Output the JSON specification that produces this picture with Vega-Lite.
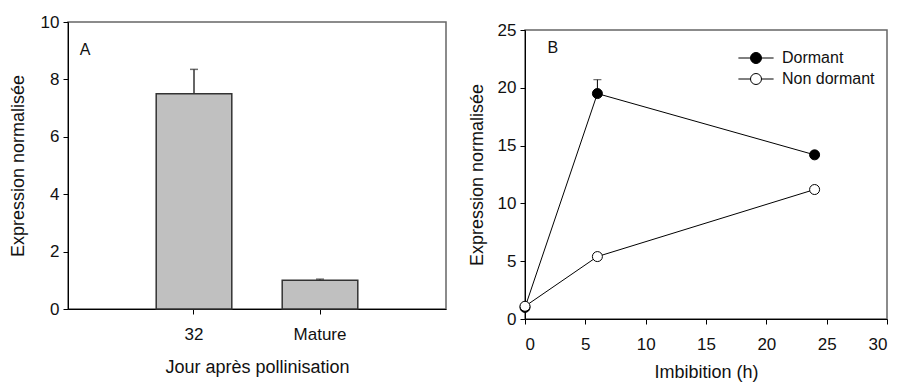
{
  "$schema": "https://vega.github.io/schema/vega-lite/v6.json",
  "background": "white",
  "padding": {"left": 8, "top": 12, "right": 0, "bottom": 0},
  "spacing": 20,
  "resolve": {"scale": {"fill": "independent"}, "legend": {"fill": "independent"}},
  "config": {
    "font": "Liberation Sans",
    "view": {"stroke": "#666", "strokeWidth": 1.5},
    "axis": {
      "grid": false,
      "domainColor": "black",
      "tickColor": "black",
      "labelColor": "#111",
      "titleColor": "#111",
      "labelFontSize": 17,
      "titleFontSize": 18,
      "titleFontWeight": "normal",
      "tickSize": 5,
      "labelPadding": 4,
      "labelFont": "Liberation Sans",
      "titleFont": "Liberation Sans"
    }
  },
  "hconcat": [
    {
      "width": 378,
      "height": 287,
      "data": {"values": [
        {"stage": "32", "expr": 7.5, "upper": 8.35},
        {"stage": "Mature", "expr": 1.0, "upper": 1.04}
      ]},
      "resolve": {"scale": {"x": "independent"}, "axis": {"x": "independent"}},
      "layer": [
        {
          "mark": {"type": "bar", "fill": "#c0c0c0", "stroke": "#333", "strokeWidth": 1.5},
          "encoding": {
            "x": {
              "field": "stage", "type": "nominal", "sort": null,
              "scale": {"paddingInner": 0.4, "paddingOuter": 0.7},
              "axis": {"title": "Jour après pollinisation", "labelAngle": 0, "labelPadding": 12, "titlePadding": 16}
            },
            "y": {"field": "expr", "type": "quantitative", "scale": {"domain": [0, 10]},
                  "axis": {"title": "Expression normalisée", "values": [0, 2, 4, 6, 8, 10], "titlePadding": 13}}
          }
        },
        {
          "mark": {"type": "rule", "color": "#333", "strokeWidth": 1.5},
          "encoding": {
            "x": {"field": "stage", "type": "nominal", "sort": null, "scale": {"paddingInner": 0.4, "paddingOuter": 0.7}, "axis": null},
            "y": {"field": "expr", "type": "quantitative"}, "y2": {"field": "upper"}}
        },
        {
          "mark": {"type": "tick", "color": "#333", "size": 8, "thickness": 1.5, "orient": "horizontal"},
          "encoding": {
            "x": {"field": "stage", "type": "nominal", "sort": null, "scale": {"paddingInner": 0.4, "paddingOuter": 0.7}, "axis": null},
            "y": {"field": "upper", "type": "quantitative"}}
        },
        {
          "data": {"values": [{"pos": 0.135, "val": 9.02, "label": "A"}]},
          "mark": {"type": "text", "fontSize": 16, "color": "#111", "align": "center", "baseline": "middle"},
          "encoding": {
            "x": {"field": "pos", "type": "quantitative", "scale": {"domain": [0, 3]}, "axis": null},
            "y": {"field": "val", "type": "quantitative"},
            "text": {"field": "label"}
          }
        }
      ]
    },
    {
      "spacing": -3,
      "resolve": {"scale": {"fill": "independent"}, "legend": {"fill": "independent"}},
      "vconcat": [
        {
          "width": 362,
          "height": 0.01,
          "view": {"stroke": null},
          "data": {"values": []},
          "mark": "point"
        },
        {
          "width": 362,
          "height": 289,
          "data": {"values": [
            {"h": 0, "expr": 1.0, "group": "Dormant"},
            {"h": 6, "expr": 19.5, "group": "Dormant", "upper": 20.7},
            {"h": 24, "expr": 14.2, "group": "Dormant"},
            {"h": 0, "expr": 1.1, "group": "Non dormant"},
            {"h": 6, "expr": 5.4, "group": "Non dormant"},
            {"h": 24, "expr": 11.2, "group": "Non dormant"}
          ]},
          "encoding": {
            "x": {"field": "h", "type": "quantitative", "scale": {"domain": [0, 30]},
                  "axis": {"title": "Imbibition (h)", "values": [0, 5, 10, 15, 20, 25, 30], "labelPadding": 12, "titlePadding": 11}},
            "y": {"field": "expr", "type": "quantitative", "scale": {"domain": [0, 25]},
                  "axis": {"title": "Expression normalisée", "values": [0, 5, 10, 15, 20, 25], "titlePadding": 11}}
          },
          "layer": [
            {
              "transform": [{"filter": "isValid(datum.upper)"}],
              "mark": {"type": "rule", "color": "black", "strokeWidth": 1},
              "encoding": {"y2": {"field": "upper"}}
            },
            {
              "transform": [{"filter": "isValid(datum.upper)"}],
              "mark": {"type": "tick", "color": "black", "size": 8, "thickness": 1, "orient": "horizontal"},
              "encoding": {"y": {"field": "upper", "type": "quantitative"}}
            },
            {
              "mark": {"type": "line", "color": "black", "strokeWidth": 1},
              "encoding": {"detail": {"field": "group", "type": "nominal"}}
            },
            {
              "mark": {"type": "point", "filled": true, "stroke": "black", "strokeWidth": 1, "size": 100, "opacity": 1},
              "encoding": {
                "fill": {
                  "field": "group", "type": "nominal",
                  "scale": {"domain": ["Dormant", "Non dormant"], "range": ["black", "white"]},
                  "legend": {
                    "title": null,
                    "orient": "none",
                    "legendX": 223,
                    "legendY": 20,
                    "symbolType": "M-3.2,0L-1,0M1,0L3.2,0M-1,0A1,1 0 1,1 1,0A1,1 0 1,1 -1,0Z",
                    "symbolSize": 121,
                    "symbolStrokeColor": "black",
                    "symbolStrokeWidth": 1,
                    "symbolOpacity": 1,
                    "labelFontSize": 16,
                    "labelFont": "Liberation Sans",
                    "labelColor": "#111",
                    "labelOffset": 18,
                    "rowPadding": 5,
                    "padding": 0
                  }
                }
              }
            },
            {
              "data": {"values": [{"h": 2.3, "expr": 23.4, "label": "B"}]},
              "mark": {"type": "text", "fontSize": 16, "color": "#111", "align": "center", "baseline": "middle"},
              "encoding": {"text": {"field": "label"}}
            }
          ]
        }
      ]
    }
  ]
}
